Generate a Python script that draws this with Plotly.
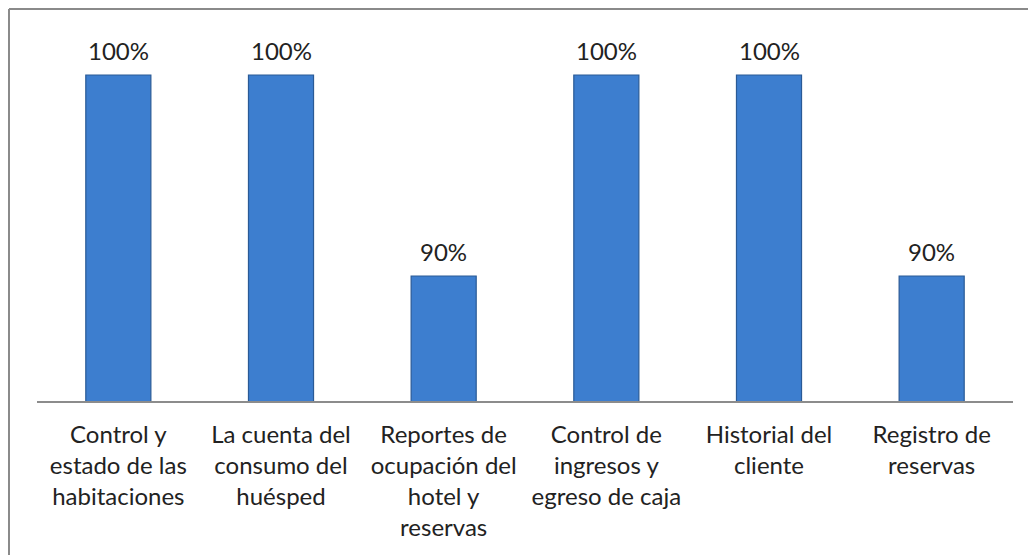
import plotly.graph_objects as go

categories = [
    "Control y<br>estado de las<br>habitaciones",
    "La cuenta del<br>consumo del<br>huésped",
    "Reportes de<br>ocupación del<br>hotel y<br>reservas",
    "Control de<br>ingresos y<br>egreso de caja",
    "Historial del<br>cliente",
    "Registro de<br>reservas",
]
values = [100, 100, 90, 100, 100, 90]
labels = [f"{v}%" for v in values]

FONT = "Lato"

fig = go.Figure()
fig.add_trace(go.Bar(
    x=categories,
    y=values,
    width=0.4,
    marker=dict(color="#3D7ECF", line=dict(color="#2A5A96", width=1.2)),
    hoverinfo="skip",
))

for c, v, t in zip(categories, values, labels):
    fig.add_annotation(x=c, y=v, text=t, showarrow=False, yshift=24,
                       font=dict(family=FONT, size=24, color="#222222"))

fig.update_layout(
    width=1028, height=547,
    margin=dict(l=29, r=23, t=28, b=154),
    plot_bgcolor="white", paper_bgcolor="white",
    showlegend=False,
    bargap=0.6,
    xaxis=dict(
        showline=True, linecolor="#8C8C8C", linewidth=1.5,
        showgrid=False, ticks="", ticklabelstandoff=11,
        tickfont=dict(family=FONT, size=24, color="#222222"),
        range=[-0.5, 5.5],
    ),
    yaxis=dict(
        range=[83.78, 101.94], visible=False, showgrid=False, zeroline=False,
    ),
    shapes=[
        dict(type="line", xref="paper", yref="paper",
             x0=-0.0287, x1=1.03, y0=1.074, y1=1.074,
             line=dict(color="#8A8A8A", width=2)),
        dict(type="line", xref="paper", yref="paper",
             x0=-0.0287, x1=-0.0287, y0=1.074, y1=-0.6,
             line=dict(color="#8A8A8A", width=2)),
    ],
)

fig.write_html("out.html")
